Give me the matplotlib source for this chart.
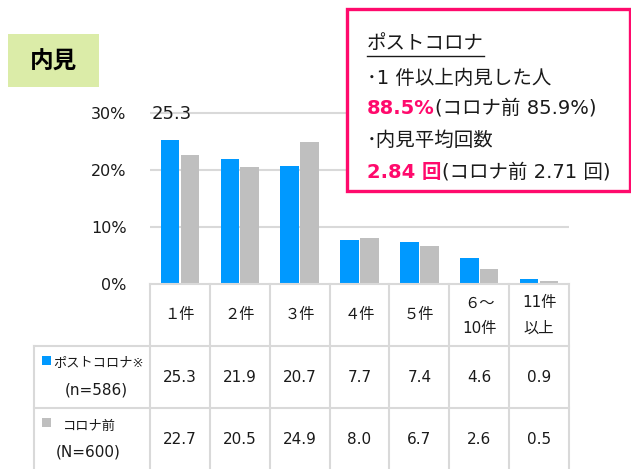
import matplotlib
matplotlib.use("Agg")
import matplotlib.pyplot as plt
from matplotlib.patches import Rectangle
import numpy as np

plt.rcParams['font.family'] = ['DejaVu Sans', 'Noto Sans CJK JP']

# ---------------- data ----------------
categories = ["１件", "２件", "３件", "４件", "５件", "６～\n10件", "11件\n以上"]
post_corona = [25.3, 21.9, 20.7, 7.7, 7.4, 4.6, 0.9]
pre_corona = [22.7, 20.5, 24.9, 8.0, 6.7, 2.6, 0.5]
series_names = ["ポストコロナ※", "コロナ前"]
series_n = ["(n=586)", "(N=600)"]
y_ticks = [0, 10, 20, 30]
y_tick_labels = ["0%", "10%", "20%", "30%"]
title = "内見"
box_heading = "ポストコロナ"
box_line1 = "･1 件以上内見した人"
box_rate_post = "88.5%"
box_rate_pre = "(コロナ前 85.9%)"
box_line3 = "･内見平均回数"
box_avg_post = "2.84 回"
box_avg_pre = "(コロナ前 2.71 回)"

BLUE = "#0099ff"
GRAY = "#bfbfbf"
LINE = "#d9d9d9"
PINK = "#ff0a6c"
GREEN = "#dbeca8"
TXT = "#1a1a1a"

W, H = 631, 469
fig = plt.figure(figsize=(W / 100, H / 100), dpi=100)

# ---------------- bar axes ----------------
x_left, x_right = 150, 569
y0_px = 284
px_per_pct = 5.7
ytop = 30.4
ax = fig.add_axes([x_left / W, (H - y0_px) / H, (x_right - x_left) / W,
                   ytop * px_per_pct / H], zorder=1)
x = np.arange(len(categories))
bw = 0.31
off = 0.165
ax.bar(x - off, post_corona, bw, color=BLUE, zorder=3)
ax.bar(x + off, pre_corona, bw, color=GRAY, zorder=3)
ax.set_xlim(-0.5, len(categories) - 0.5)
ax.set_ylim(0, ytop)
for s in ax.spines.values():
    s.set_visible(False)
ax.set_xticks([])
ax.set_yticks(y_ticks)
ax.set_yticklabels(y_tick_labels, fontsize=11.5, color=TXT)
ax.tick_params(axis='y', length=0, pad=17)
for t in y_ticks[1:]:
    ax.axhline(t, color=LINE, lw=1.5, zorder=1)
ax.patch.set_alpha(0)

# ---------------- overlay (pixel coordinates) ----------------
ov = fig.add_axes([0, 0, 1, 1], zorder=5)
ov.set_xlim(0, W)
ov.set_ylim(H, 0)
ov.axis('off')
ov.patch.set_alpha(0)

# stray data label
ov.text(172, 114, f"{post_corona[0]:.1f}", fontsize=13, ha='center', va='center', color=TXT)

# title box
ov.add_patch(Rectangle((8, 34), 91, 53, facecolor=GREEN, edgecolor='none'))
ov.text(53, 62, title, fontsize=17, fontweight='bold', ha='center', va='center',
        family=['Noto Sans CJK JP'], color="black")

# table lines
col_w = (x_right - x_left) / len(categories)
cols = [x_left + i * col_w for i in range(len(categories) + 1)]
row_lines = [346, 408]
bottom = 471
ov.plot([x_left, x_right], [y0_px, y0_px], color=LINE, lw=1.5)
for cx in cols:
    ov.plot([cx, cx], [y0_px, bottom], color=LINE, lw=1.5)
ov.plot([34, 34], [row_lines[0], bottom], color=LINE, lw=1.5)
for ry in row_lines:
    ov.plot([34, x_right], [ry, ry], color=LINE, lw=1.5)

# header
for i, c in enumerate(categories):
    cx = x_left + (i + 0.5) * col_w
    if "\n" in c:
        a, b = c.split("\n")
        ov.text(cx, 303, a, fontsize=11, ha='center', va='center', color=TXT)
        ov.text(cx, 328, b, fontsize=11, ha='center', va='center', color=TXT)
    else:
        ov.text(cx, 315, c, fontsize=11, ha='center', va='center', color=TXT)

# values
for i in range(len(categories)):
    cx = x_left + (i + 0.5) * col_w
    ov.text(cx, 377, f"{post_corona[i]:.1f}", fontsize=11, ha='center', va='center', color=TXT)
    ov.text(cx, 440, f"{pre_corona[i]:.1f}", fontsize=11, ha='center', va='center', color=TXT)

# legend cells
ov.add_patch(Rectangle((42, 356), 9, 9, facecolor=BLUE, edgecolor='none'))
ov.text(53, 363, series_names[0], fontsize=9.5, ha='left', va='center', color=TXT)
ov.text(96, 390, series_n[0], fontsize=11, ha='center', va='center', color=TXT)
ov.add_patch(Rectangle((42, 418), 9, 9, facecolor=GRAY, edgecolor='none'))
ov.text(63, 426, series_names[1], fontsize=9.5, ha='left', va='center', color=TXT)
ov.text(88, 452, series_n[1], fontsize=11, ha='center', va='center', color=TXT)

# pink info box
ov.add_patch(Rectangle((347, 9), 283, 182, facecolor='white', edgecolor=PINK, lw=2.4))
fs = 14
tx = 367
fig.canvas.draw()
renderer = fig.canvas.get_renderer()

def px_right(t):
    bb = t.get_window_extent(renderer=renderer)
    return ov.transData.inverted().transform((bb.x1, bb.y0))[0]

h = ov.text(tx, 43, box_heading, fontsize=fs, ha='left', va='center', color=TXT)
ov.plot([tx, px_right(h)], [56, 56], color=TXT, lw=1.0)
ov.text(tx, 78, box_line1, fontsize=fs, ha='left', va='center', color=TXT)
t1 = ov.text(tx, 108, box_rate_post, fontsize=fs, fontweight='bold', ha='left', va='center', color=PINK)
ov.text(px_right(t1), 108, box_rate_pre, fontsize=fs, ha='left', va='center', color=TXT)
ov.text(tx, 140, box_line3, fontsize=fs, ha='left', va='center', color=TXT)
t2 = ov.text(tx, 172, box_avg_post, fontsize=fs, fontweight='bold', ha='left', va='center', color=PINK)
ov.text(px_right(t2), 172, box_avg_pre, fontsize=fs, ha='left', va='center', color=TXT)

fig.savefig("out.png", dpi=100)
